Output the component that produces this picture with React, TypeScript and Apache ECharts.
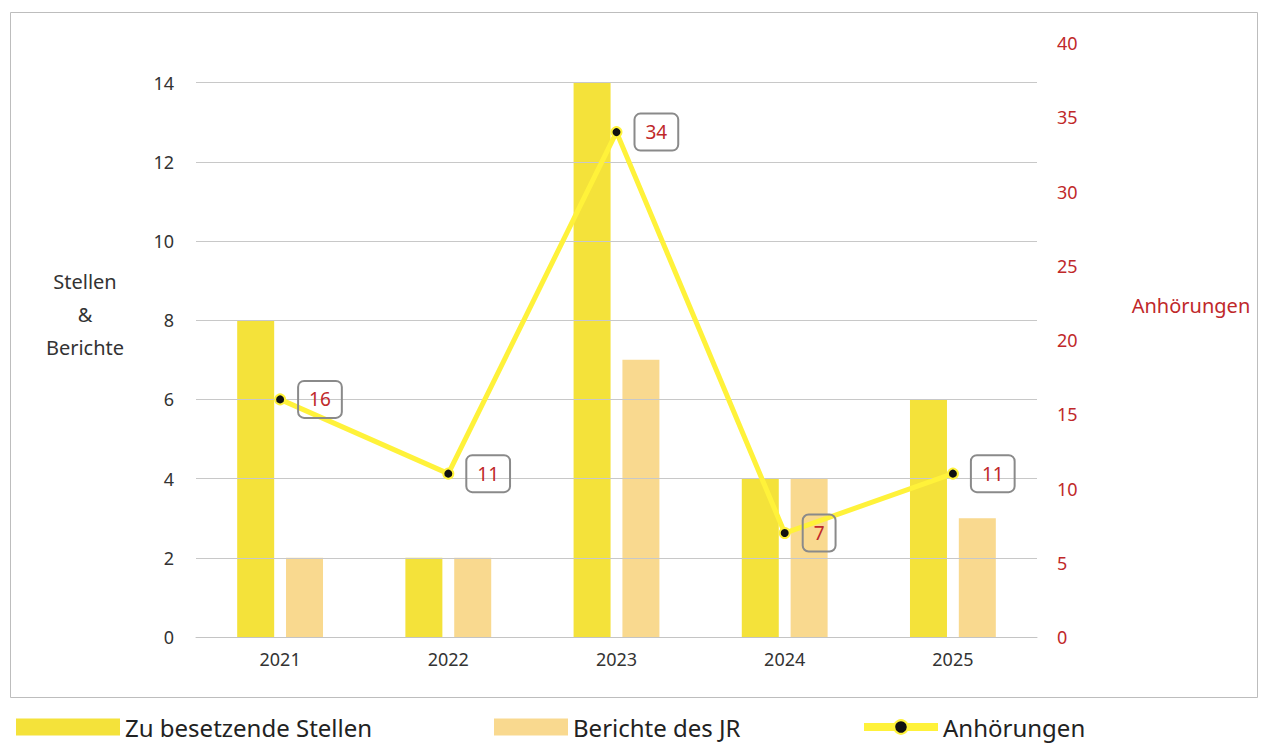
import React, { useEffect, useRef } from "react";
import * as echarts from "echarts";

const YEARS = ["2021", "2022", "2023", "2024", "2025"];
const STELLEN = [8, 2, 14, 4, 6];
const BERICHTE = [2, 2, 7, 4, 3];
const ANHOERUNGEN = [16, 11, 34, 7, 11];
const LEFT_GRID_VALUES = [2, 4, 6, 8, 10, 12, 14];

const FONT = "'Noto Sans', 'Open Sans', sans-serif";

export default function App() {
  const ref = useRef<HTMLDivElement>(null);
  useEffect(() => {
    if (!ref.current) return;
    const chart = echarts.init(ref.current, null, { renderer: "svg" });
    const legendText = { fontSize: 24, color: "#222", fontFamily: FONT, lineHeight: 26 };
    chart.setOption({
      animation: false,
      backgroundColor: "#ffffff",
      textStyle: { fontFamily: FONT },
      grid: { left: 196, right: 224, top: 43, bottom: 108 },
      xAxis: {
        type: "category",
        data: YEARS,
        axisTick: { show: false },
        axisLine: { lineStyle: { color: "#c4c4c4", width: 1 } },
        axisLabel: { color: "#333", fontSize: 18, margin: 13, fontFamily: FONT },
      },
      yAxis: [
        {
          type: "value",
          min: 0,
          max: 15,
          interval: 2,
          splitLine: { show: false },
          axisLine: { show: false },
          axisTick: { show: false },
          axisLabel: {
            color: "#333",
            fontSize: 18,
            margin: 22,
            fontFamily: FONT,
            formatter: (v: number) => (v % 2 === 0 ? String(v) : ""),
          },
        },
        {
          type: "value",
          min: 0,
          max: 40,
          interval: 5,
          splitLine: { show: false },
          axisLine: { show: false },
          axisTick: { show: false },
          axisLabel: { color: "#c0282a", fontSize: 18, margin: 20, fontFamily: FONT },
        },
      ],
      legend: [
        {
          data: ["Zu besetzende Stellen"],
          left: 14,
          top: 712,
          padding: 2,
          icon: "rect",
          itemWidth: 104,
          itemHeight: 17,
          textStyle: legendText,
        },
        {
          data: ["Berichte des JR"],
          left: 492,
          top: 712,
          padding: 2,
          icon: "rect",
          itemWidth: 74,
          itemHeight: 17,
          textStyle: legendText,
        },
        {
          data: ["Anhörungen"],
          left: 858,
          top: 712,
          padding: 2,
          itemWidth: 74,
          itemHeight: 17,
          lineStyle: { width: 8 },
          textStyle: legendText,
        },
      ],
      graphic: [
        {
          type: "rect",
          shape: { x: 10.5, y: 12.5, width: 1247, height: 685 },
          style: { fill: "none", stroke: "#bdbdbd", lineWidth: 1 },
          silent: true,
        },
        {
          type: "text",
          x: 85,
          y: 314,
          style: {
            text: "Stellen\n&\nBerichte",
            fill: "#333",
            font: `20px ${FONT}`,
            textAlign: "center",
            textVerticalAlign: "middle",
            lineHeight: 33,
          },
        },
        {
          type: "text",
          x: 1191,
          y: 305,
          style: {
            text: "Anhörungen",
            fill: "#c0282a",
            font: `20px ${FONT}`,
            textAlign: "center",
            textVerticalAlign: "middle",
          },
        },
      ],
      series: [
        {
          name: "Zu besetzende Stellen",
          type: "bar",
          yAxisIndex: 0,
          data: STELLEN,
          barWidth: 37,
          barGap: "32%",
          itemStyle: { color: "#f4e23a" },
          markLine: {
            silent: true,
            symbol: "none",
            label: { show: false },
            lineStyle: { color: "#c8c8c8", type: "solid", width: 1 },
            data: LEFT_GRID_VALUES.map((v) => ({ yAxis: v })),
          },
          z: 2,
        },
        {
          name: "Berichte des JR",
          type: "bar",
          yAxisIndex: 0,
          data: BERICHTE,
          barWidth: 37,
          itemStyle: { color: "#f9d98f" },
          z: 2,
        },
        {
          name: "Anhörungen",
          type: "line",
          yAxisIndex: 1,
          data: ANHOERUNGEN,
          symbol: "circle",
          symbolSize: 10,
          lineStyle: { color: "#fff23a", width: 5 },
          itemStyle: { color: "#111", borderColor: "#fff23a", borderWidth: 2 },
          z: 5,
          label: {
            show: true,
            position: "right",
            distance: 12,
            color: "#c0282a",
            fontSize: 19,
            fontFamily: FONT,
            borderColor: "#8a8a8a",
            borderWidth: 1,
            borderRadius: 6,
            padding: [9, 11, 9, 11],
            backgroundColor: "transparent",
          },
        },
      ],
    });
    return () => chart.dispose();
  }, []);
  return (
    <div
      ref={ref}
      style={{ position: "fixed", left: 0, top: 0, width: 1261, height: 745 }}
    />
  );
}
